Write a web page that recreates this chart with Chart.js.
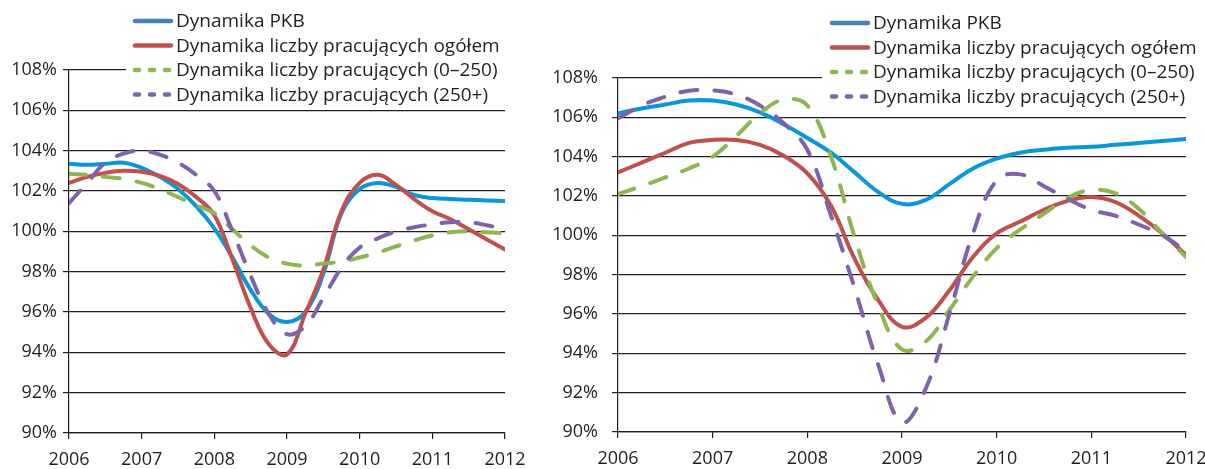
<!DOCTYPE html>
<html>
<head>
<meta charset="utf-8">
<script src="https://cdn.jsdelivr.net/npm/chart.js@4.4.1/dist/chart.umd.min.js"></script>
<style>
  html, body { margin: 0; padding: 0; background: #ffffff; }
  #wrap { position: relative; width: 1205px; height: 469px; overflow: hidden; background: #fff; }
  canvas { position: absolute; top: 0; }
  #c1 { left: 0; }
  #c2 { left: 540px; }
</style>
</head>
<body>
<div id="wrap">
  <canvas id="c1" width="540" height="469"></canvas>
  <canvas id="c2" width="665" height="469"></canvas>
</div>
<script>
// ---- data (quarterly observations, index 100% = previous year) ----
const quarters = [2006, 2006.25, 2006.5, 2006.75, 2007, 2007.25, 2007.5, 2007.75,
                  2008, 2008.25, 2008.5, 2008.75, 2009, 2009.25, 2009.5, 2009.75,
                  2010, 2010.25, 2010.5, 2010.75, 2011, 2011.25, 2011.5, 2011.75, 2012];
const yearTicks = [2006, 2007, 2008, 2009, 2010, 2011, 2012];
const seriesLabels = ['Dynamika PKB', 'Dynamika liczby pracujących ogółem',
                      'Dynamika liczby pracujących (0–250)', 'Dynamika liczby pracujących (250+)'];

// left chart
const leftPKB   = [103.35, 103.3, 103.35, 103.4, 103.15, 102.7, 102.1, 101.25, 100.15, 98.7, 97.1, 95.9, 95.5,
                   96.0, 97.9, 100.9, 102.1, 102.4, 102.2, 101.8, 101.65, 101.6, 101.57, 101.53, 101.5];
const leftTotal = [102.4, 102.7, 102.9, 103.0, 102.95, 102.75, 102.35, 101.7, 100.8, 98.6, 96.2, 94.4, 93.9,
                   95.9, 98.1, 101.0, 102.4, 102.8, 102.3, 101.6, 101.0, 100.6, 100.1, 99.6, 99.1];
const leftSmall = [102.85, 102.8, 102.7, 102.6, 102.4, 102.1, 101.7, 101.3, 100.9, 100.1, 99.3, 98.7, 98.4,
                   98.3, 98.4, 98.5, 98.7, 98.95, 99.25, 99.55, 99.8, 99.95, 100.0, 99.95, 99.9];
const leftLarge = [101.4, 102.4, 103.4, 103.85, 104.0, 103.8, 103.4, 102.8, 102.0, 100.0, 97.8, 95.9, 94.9,
                   95.3, 96.7, 98.2, 99.2, 99.65, 100.0, 100.2, 100.35, 100.45, 100.45, 100.3, 100.1];

// right chart
const rightPKB   = [106.2, 106.45, 106.65, 106.85, 106.85, 106.65, 106.25, 105.65, 104.95, 104.2, 103.2, 102.2, 101.6,
                    101.8, 102.6, 103.4, 103.9, 104.2, 104.35, 104.45, 104.5, 104.6, 104.7, 104.8, 104.9];
const rightTotal = [103.2, 103.7, 104.2, 104.7, 104.85, 104.85, 104.6, 104.05, 103.15, 101.5, 98.8, 96.7, 95.35,
                    95.8, 97.2, 98.9, 100.1, 100.7, 101.3, 101.75, 101.95, 101.7, 101.0, 100.1, 99.0];
const rightSmall = [102.1, 102.5, 102.95, 103.4, 104.0, 105.05, 106.2, 106.9, 106.6, 104.0, 99.9, 96.4, 94.2,
                    94.6, 96.2, 97.9, 99.35, 100.3, 101.1, 101.9, 102.3, 102.15, 101.35, 100.1, 98.9];
const rightLarge = [105.95, 106.6, 107.05, 107.35, 107.37, 107.15, 106.6, 105.7, 104.35, 101.0, 97.3, 93.4, 90.5,
                    92.2, 96.0, 100.1, 102.8, 103.1, 102.5, 101.85, 101.3, 101.0, 100.55, 100.0, 99.2];

const yMin = 90, yMax = 108, yStep = 2;

// ---- styles ----
const FONT = '"Open Sans", "DejaVu Sans", sans-serif';
const TICK_SIZE = 18;
const LEGEND_SIZE = 19;
const lineColors   = ['#0a97d7', '#c0504d', '#8fb552', '#7e62aa'];
const legendColors = ['#4a7ebb', '#c0504d', '#8fb552', '#7e62aa'];
const lineDashes   = [[], [], [17, 17], [17, 17]];
const legendDashes = [[], [], [4, 11], [4, 11]];

function toPoints(vals) { return quarters.map((q, i) => ({ x: q, y: vals[i] })); }

function makeDatasets(values) {
  return values.map((vals, i) => ({
    label: seriesLabels[i],
    data: toPoints(vals),
    borderColor: lineColors[i],
    backgroundColor: lineColors[i],
    borderWidth: 4,
    borderDash: lineDashes[i],
    borderCapStyle: 'round',
    borderJoinStyle: 'round',
    pointRadius: 0,
    tension: 0.4,
    fill: false
  })).reverse(); // draw PKB last (on top)
}

// custom legend drawn with canvas text, white box covering gridlines
const legendPlugin = {
  id: 'overlayLegend',
  afterDatasetsDraw(chart, args, opts) {
    const ctx = chart.ctx;
    ctx.save();
    ctx.fillStyle = '#ffffff';
    ctx.fillRect(opts.boxX, opts.boxY, opts.boxW, opts.boxH);
    ctx.font = LEGEND_SIZE + 'px ' + FONT;
    ctx.textBaseline = 'middle';
    ctx.textAlign = 'left';
    seriesLabels.forEach((lab, i) => {
      const y = opts.y0 + i * opts.rowH;
      ctx.beginPath();
      ctx.lineWidth = 4.5;
      ctx.lineCap = 'round';
      ctx.strokeStyle = legendColors[i];
      ctx.setLineDash(legendDashes[i]);
      ctx.moveTo(opts.x0 + 2, y);
      ctx.lineTo(opts.x0 + 38, y);
      ctx.stroke();
      ctx.setLineDash([]);
      ctx.fillStyle = '#231f20';
      ctx.fillText(lab, opts.x0 + 43, y + 1);
    });
    ctx.restore();
  }
};

function makeChart(id, values, cfg) {
  return new Chart(document.getElementById(id), {
    type: 'line',
    data: { datasets: makeDatasets(values) },
    plugins: [legendPlugin],
    options: {
      responsive: false,
      animation: false,
      devicePixelRatio: 1,
      layout: { padding: { top: cfg.top, right: cfg.right, bottom: 0, left: 0 } },
      plugins: {
        legend: { display: false },
        tooltip: { enabled: false },
        overlayLegend: cfg.legend
      },
      scales: {
        x: {
          type: 'linear',
          min: yearTicks[0], max: yearTicks[yearTicks.length - 1],
          afterBuildTicks: (s) => { s.ticks = yearTicks.map(v => ({ value: v })); },
          afterFit: (s) => { s.height = cfg.xHeight; s.paddingLeft = 0; s.paddingRight = 0; },
          grid: { drawOnChartArea: false, drawTicks: true, tickLength: 6, color: '#231f20', lineWidth: 1.2 },
          border: { color: '#231f20', width: 1.2 },
          ticks: { color: '#231f20', font: { family: FONT, size: TICK_SIZE }, padding: cfg.xPad,
                   maxRotation: 0, autoSkip: false, callback: (v) => String(v) }
        },
        y: {
          min: yMin, max: yMax,
          afterFit: (s) => { s.width = cfg.yWidth; s.paddingTop = 0; s.paddingBottom = 0; },
          grid: { drawOnChartArea: true, drawTicks: true, tickLength: 6, color: '#231f20', lineWidth: 1.2 },
          border: { color: '#231f20', width: 1.2 },
          ticks: { stepSize: yStep, color: '#231f20', font: { family: FONT, size: TICK_SIZE },
                   padding: cfg.yPad, callback: (v) => v + '%' }
        }
      }
    }
  });
}

makeChart('c1', [leftPKB, leftTotal, leftSmall, leftLarge], {
  top: 70, right: 35, xHeight: 36, yWidth: 69, xPad: 10, yPad: 6,
  legend: { boxX: 126, boxY: 0, boxW: 414, boxH: 106, x0: 133, y0: 21, rowH: 24.5 }
});
makeChart('c2', [rightPKB, rightTotal, rightSmall, rightLarge], {
  top: 78, right: 19, xHeight: 37, yWidth: 78, xPad: 10, yPad: 14,
  legend: { boxX: 282, boxY: 0, boxW: 383, boxH: 108, x0: 290, y0: 23, rowH: 24.5 }
});
</script>
</body>
</html>
